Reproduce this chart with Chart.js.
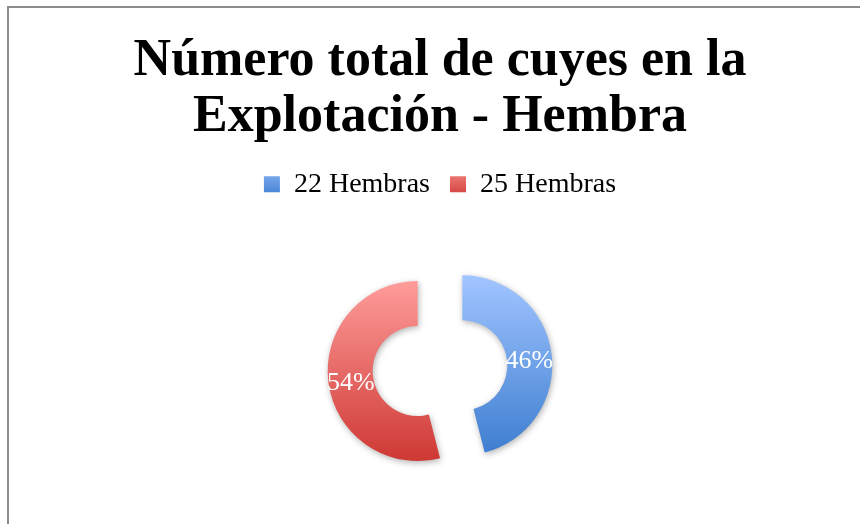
<!DOCTYPE html>
<html>
<head>
<meta charset="utf-8">
<script src="https://cdn.jsdelivr.net/npm/chart.js@4.4.1/dist/chart.umd.min.js"></script>
<style>
    html, body { margin: 0; padding: 0; background: #fff; overflow: hidden; }
    #frame { position: absolute; left: 7px; top: 6px; width: 880px; height: 560px;
             border-left: 2px solid #8c8c8c; border-top: 2px solid #8c8c8c; }
    #frame canvas { display: block; }
</style>
</head>
<body>
<div id="frame"><canvas id="chart" width="862" height="530"></canvas></div>
<script>
// Datos del gráfico
const titleLines = ['Número total de cuyes en la', 'Explotación - Hembra'];
const categories = ['22 Hembras', '25 Hembras'];
const values = [46, 54];

// Colores (claro arriba, oscuro abajo)
const gradientStops = [
    ['#a0c4ff', '#3b7ccf'],
    ['#ff9e9c', '#cf3a35']
];

const SERIF = '"Liberation Serif", "DejaVu Serif", serif';
const RADIUS = 90;
const SHIFT = 22.5;   // separación de cada sector desde el centro (px)

const total = values.reduce((a, b) => a + b, 0);

function sliceGradient(chart, i) {
    const area = chart.chartArea;
    if (!area) return gradientStops[i][1];
    const cy = (area.top + area.bottom) / 2;
    const g = chart.ctx.createLinearGradient(0, cy - RADIUS, 0, cy + RADIUS);
    g.addColorStop(0, gradientStops[i][0]);
    g.addColorStop(1, gradientStops[i][1]);
    return g;
}

// Separación de sectores, sombra y etiquetas de porcentaje
const arcExtras = {
    id: 'arcExtras',
    afterDatasetsUpdate(chart) {
        chart.getDatasetMeta(0).data.forEach(arc => {
            const mid = (arc.startAngle + arc.endAngle) / 2;
            arc.x += Math.cos(mid) * SHIFT;
            arc.y += Math.sin(mid) * SHIFT;
        });
    },
    beforeDraw(chart) {
        const legend = chart.legend;
        if (!legend || !legend.legendItems) return;
        legend.legendItems.forEach((item, i) => {
            const g = chart.ctx.createLinearGradient(0, legend.top + 10, 0, legend.bottom - 10);
            g.addColorStop(0, gradientStops[i][0]);
            g.addColorStop(1, gradientStops[i][1]);
            item.fillStyle = g;
        });
    },
    beforeDatasetsDraw(chart) {
        const ctx = chart.ctx;
        ctx.save();
        ctx.shadowColor = 'rgba(0, 0, 0, 0.3)';
        ctx.shadowBlur = 6;
        ctx.shadowOffsetX = 1;
        ctx.shadowOffsetY = 2;
    },
    afterDatasetsDraw(chart) {
        const ctx = chart.ctx;
        ctx.restore();
        const meta = chart.getDatasetMeta(0);
        ctx.save();
        ctx.fillStyle = '#ffffff';
        ctx.font = '26px ' + SERIF;
        ctx.textAlign = 'center';
        ctx.textBaseline = 'middle';
        meta.data.forEach((arc, i) => {
            const mid = (arc.startAngle + arc.endAngle) / 2;
            const r = (arc.innerRadius + arc.outerRadius) / 2;
            const x = arc.x + Math.cos(mid) * r;
            const y = arc.y + Math.sin(mid) * r + 4;
            ctx.fillText(Math.round(values[i] / total * 100) + '%', x, y);
        });
        ctx.restore();
    }
};

new Chart(document.getElementById('chart'), {
    type: 'doughnut',
    data: {
        labels: categories,
        datasets: [{
            data: values,
            backgroundColor: (c) => sliceGradient(c.chart, c.dataIndex),
            borderWidth: 0,
            offset: 0
        }]
    },
    options: {
        responsive: false,
        animation: false,
        radius: RADIUS,
        cutout: '50%',
        layout: { padding: { bottom: 10 } },
        plugins: {
            title: {
                display: true,
                text: titleLines,
                color: '#000',
                font: { family: SERIF, size: 52, weight: 'bold', lineHeight: 1.08 },
                padding: { top: 25, bottom: 5 }
            },
            legend: {
                position: 'top',
                labels: {
                    color: '#000',
                    font: { family: SERIF, size: 28 },
                    boxWidth: 16,
                    boxHeight: 16,
                    padding: 20,
                    generateLabels: () => categories.map((text, i) => ({
                        text: text,
                        fillStyle: gradientStops[i][1],
                        strokeStyle: 'rgba(0,0,0,0)',
                        lineWidth: 0,
                        hidden: false,
                        index: i,
                        fontColor: '#000'
                    }))
                }
            },
            tooltip: { enabled: false }
        }
    },
    plugins: [arcExtras]
});
</script>
</body>
</html>
